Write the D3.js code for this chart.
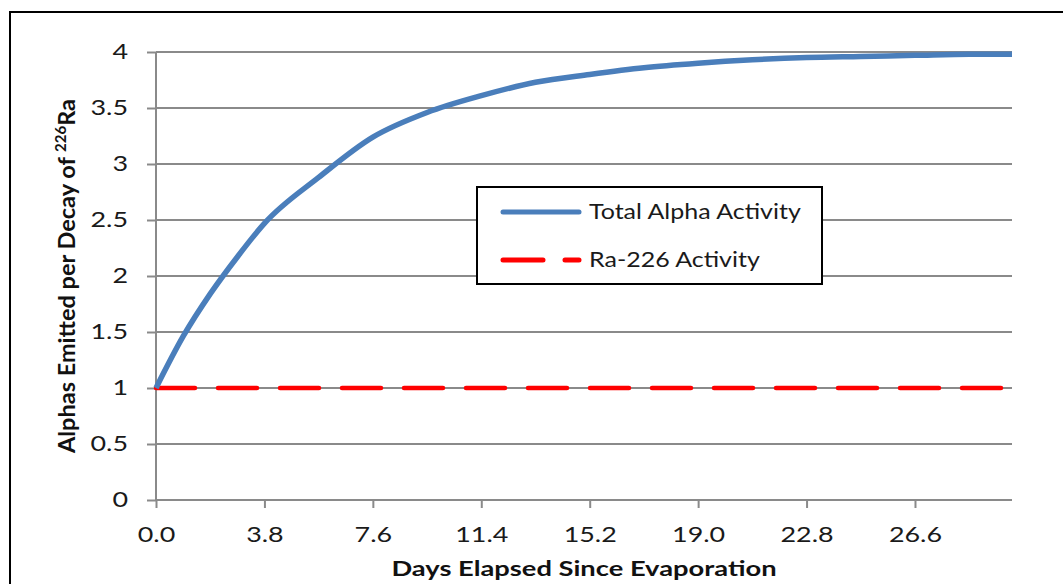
<!DOCTYPE html>
<html>
<head>
<meta charset="utf-8">
<script src="https://cdn.jsdelivr.net/npm/d3@7"></script>
<style>
  body { margin: 0; background: #fff; }
  svg { display: block; }
</style>
</head>
<body>
<div id="chart"></div>
<script>
// values
let days  = [0, 0.95, 1.9, 2.85, 3.8, 5.7, 7.6, 9.5, 11.4, 13.3, 15.2, 17.1, 19.0, 20.9, 22.8, 24.7, 26.6, 28.5, 30];
let totalAlpha = [1.00, 1.46, 1.84, 2.17, 2.47, 2.88, 3.24, 3.46, 3.61, 3.73, 3.80, 3.86, 3.90, 3.93, 3.95, 3.96, 3.97, 3.98, 3.98];
let ra226 = [1, 1];
let raDays = [0, 30];
let xTicks = [0, 3.8, 7.6, 11.4, 15.2, 19.0, 22.8, 26.6];
let yTicks = [0, 0.5, 1, 1.5, 2, 2.5, 3, 3.5, 4];

let width = 1063, height = 584;
let plotLeft = 156, plotRight = 1012, plotTop = 52, plotBottom = 500;
let font = "Lato, 'Open Sans', sans-serif";
let widen = 1.28; // the source text is drawn wider than Lato

function stretch(sel, k) {
  sel.each(function() {
    let w = this.getComputedTextLength();
    d3.select(this)
        .attr("textLength", w * k)
        .attr("lengthAdjust", "spacingAndGlyphs");
  });
}

let svg = d3.select("#chart").append("svg")
    .attr("width", width)
    .attr("height", height);

// outer frame
svg.append("rect")
    .attr("x", 10).attr("y", 12)
    .attr("width", 1100).attr("height", 620)
    .attr("fill", "white")
    .attr("stroke", "black")
    .attr("stroke-width", 2);

let x = d3.scaleLinear().domain([0, 30]).range([plotLeft, plotRight]);
let y = d3.scaleLinear().domain([0, 4]).range([plotBottom, plotTop]);

// gridlines
svg.append("g")
    .selectAll("line")
    .data(yTicks.filter(function(d) { return d > 0; }))
    .enter()
    .append("line")
    .attr("x1", plotLeft).attr("x2", plotRight)
    .attr("y1", function(d) { return y(d); })
    .attr("y2", function(d) { return y(d); })
    .attr("stroke", "#8a8a8a")
    .attr("stroke-width", 2);

// y axis
let yAxis = svg.append("g")
    .attr("transform", "translate(" + plotLeft + ",0)")
    .call(d3.axisLeft(y).tickValues(yTicks).tickSize(9).tickPadding(19)
      .tickFormat(function(d) { return String(d); }));

// x axis
let xAxis = svg.append("g")
    .attr("transform", "translate(0," + plotBottom + ")")
    .call(d3.axisBottom(x).tickValues(xTicks).tickSize(8).tickPadding(19)
      .tickFormat(d3.format(".1f")));

[yAxis, xAxis].forEach(function(a) {
  a.select(".domain").attr("stroke", "#8a8a8a").attr("stroke-width", 2);
  a.selectAll(".tick line").attr("stroke", "#8a8a8a").attr("stroke-width", 2);
  a.selectAll(".tick text")
      .attr("font-family", font)
      .attr("font-size", 21)
      .attr("fill", "#1a1a1a");
  stretch(a.selectAll(".tick text"), widen);
});
xAxis.select(".domain").attr("d", "M" + plotLeft + ",0H" + plotRight);
yAxis.select(".domain").attr("d", "M0," + plotBottom + "V" + plotTop);

// lines
let raLine = d3.line()
    .x(function(d, i) { return x(raDays[i]); })
    .y(function(d) { return y(d); });

svg.append("path")
    .datum(ra226)
    .attr("d", raLine)
    .attr("fill", "none")
    .attr("stroke", "#ff0000")
    .attr("stroke-width", 4.5)
    .attr("stroke-linecap", "round")
    .attr("stroke-dasharray", "39 23");

let totalLine = d3.line()
    .x(function(d, i) { return x(days[i]); })
    .y(function(d) { return y(d); })
    .curve(d3.curveMonotoneX);

svg.append("path")
    .datum(totalAlpha)
    .attr("d", totalLine)
    .attr("fill", "none")
    .attr("stroke", "#4a7ebb")
    .attr("stroke-width", 5.5)
    .attr("stroke-linecap", "butt");

// axis titles
let xTitle = svg.append("text")
    .attr("x", (plotLeft + plotRight) / 2)
    .attr("y", 576)
    .attr("text-anchor", "middle")
    .attr("font-family", font)
    .attr("font-weight", "bold")
    .attr("font-size", 21)
    .attr("fill", "#111")
    .text("Days Elapsed Since Evaporation");
stretch(xTitle, 1.3);

let yTitle = svg.append("text")
    .attr("transform", "translate(75," + ((plotTop + plotBottom) / 2) + ") rotate(-90)")
    .attr("text-anchor", "middle")
    .attr("font-family", font)
    .attr("font-weight", "bold")
    .attr("font-size", 23.5)
    .attr("fill", "#111");
yTitle.append("tspan").text("Alphas Emitted per Decay of ");
yTitle.append("tspan").attr("dy", -9).attr("font-size", 15).text("226");
yTitle.append("tspan").attr("dy", 9).text("Ra");

// legend
let legend = svg.append("g");
legend.append("rect")
    .attr("x", 477).attr("y", 187)
    .attr("width", 345).attr("height", 97)
    .attr("fill", "white")
    .attr("stroke", "black")
    .attr("stroke-width", 2);

let legendItems = [
  { name: "Total Alpha Activity", color: "#4a7ebb", dash: null, y: 212 },
  { name: "Ra-226 Activity", color: "#ff0000", dash: "40 22", y: 260 }
];

legendItems.forEach(function(d) {
  legend.append("line")
      .attr("x1", 503).attr("x2", 579)
      .attr("y1", d.y).attr("y2", d.y)
      .attr("stroke", d.color)
      .attr("stroke-width", 5)
      .attr("stroke-linecap", "round")
      .attr("stroke-dasharray", d.dash);
  let t = legend.append("text")
      .attr("x", 589)
      .attr("y", d.y)
      .attr("dy", "0.35em")
      .attr("font-family", font)
      .attr("font-size", 21)
      .attr("fill", "#1a1a1a")
      .text(d.name);
  stretch(t, 1.19);
});
</script>
</body>
</html>
